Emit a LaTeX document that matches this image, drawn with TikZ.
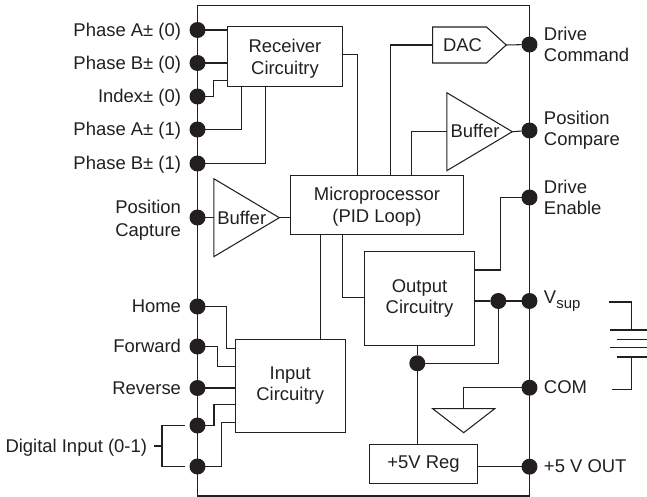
\documentclass[tikz,border=0pt]{standalone}
\usepackage{fontspec}
\setmainfont{Liberation Sans}
\usepackage{xcolor}
\usetikzlibrary{positioning}
\usetikzlibrary{shapes.geometric}
\usetikzlibrary{shapes.symbols}
\definecolor{ink}{HTML}{231F20}
\tikzset{
	terminal/.style={circle,fill=ink,draw=none,minimum size=.32cm,inner sep=0pt,outer sep=0pt},
	block/.style={draw=ink,rectangle,align=center,inner sep=0pt,outer sep=0pt},
	caption/.style={inner sep=0pt,outer sep=0pt,text=ink},
	oneline/.style={caption,text height=.716em,text depth=0pt},
	buffer/.style={draw=ink,isosceles triangle,isosceles triangle stretches,inner sep=0pt,outer sep=0pt}
}
\begin{document}
\begin{tikzpicture}[x=.02cm,y=-.02cm,line width=.6pt,draw=ink,text=ink,font=\fontsize{10.5}{12.2}\selectfont]
		\useasboundingbox (0,0) rectangle (647,497);
		\draw (197.5,5.5) rectangle (529.5,496);

		\node[terminal](pa0) at (197.5,30) {};
		\node[terminal](pb0) at (197.5,63) {};
		\node[terminal](idx0) at (197.5,96.5) {};
		\node[terminal](pa1) at (197.5,129.5) {};
		\node[terminal](pb1) at (197.5,163.5) {};
		\node[terminal](capture) at (197.5,217.5) {};
		\node[terminal](home) at (197.5,306.5) {};
		\node[terminal](forward) at (197.5,346.5) {};
		\node[terminal](reverse) at (197.5,388) {};
		\node[terminal](din0) at (197.5,425.5) {};
		\node[terminal](din1) at (197.5,466.5) {};

		\node[terminal](command) at (529.5,44.5) {};
		\node[terminal](compare) at (529.5,130.5) {};
		\node[terminal](enable) at (529.5,197.5) {};
		\node[terminal](vsup) at (529.5,301) {};
		\node[terminal](com) at (529.5,387.7) {};
		\node[terminal](fivev) at (529.5,466.7) {};
		\node[terminal](vjoin) at (498.3,301) {};
		\node[terminal](regjoin) at (417.3,363.3) {};

		\node[oneline,left = .17cm of pa0](lpa0) {Phase A± (0)};
		\node[oneline,left = .17cm of pb0](lpb0) {Phase B± (0)};
		\node[oneline,left = .17cm of idx0](lidx0) {Index± (0)};
		\node[oneline,left = .17cm of pa1](lpa1) {Phase A± (1)};
		\node[oneline,left = .17cm of pb1](lpb1) {Phase B± (1)};
		\node[caption,left = .17cm of capture,align=right,yshift=-1.5pt](lcapture) {Position\\[.6pt]Capture};
		\node[oneline,left = .17cm of home](lhome) {Home};
		\node[oneline,left = .17cm of forward](lforward) {Forward};
		\node[oneline,left = .17cm of reverse](lreverse) {Reverse};

		\node[caption,right = .13cm of command,align=left](lcommand) {Drive\\Command};
		\node[caption,right = .13cm of compare,align=left](lcompare) {Position\\Compare};
		\node[caption,right = .13cm of enable,align=left](lenable) {Drive\\Enable};
		\node[caption,right = .13cm of vsup](lvsup) {V\raisebox{-.3em}{\fontsize{8.5}{10}\selectfont sup}};
		\node[oneline,right = .13cm of com](lcom) {COM};
		\node[oneline,right = .13cm of fivev](lfivev) {+5 V OUT};

		\node[block,minimum width=2.3cm,minimum height=1.2cm](receiver) at (285,56.6) {\rule{0pt}{9.9pt}Receiver\\Circuitry};
		\node[block,minimum width=3.45cm,minimum height=1.18cm](micro) at (377,205.2) {\rule{0pt}{9.2pt}Microprocessor\\(PID Loop)};
		\node[block,minimum width=2.2cm,minimum height=1.88cm](output) at (419.5,298.5) {Output\\Circuitry};
		\node[block,minimum width=2.2cm,minimum height=1.87cm](input) at (290.2,385.8) {Input\\Circuitry};
		\node[block,minimum width=2.15cm,minimum height=.78cm,text height=.7em,text depth=.2em](reg) at (423.6,464.2) {+5V Reg};

		\node[buffer,minimum height=1.31cm,minimum width=1.56cm,anchor=apex](bufcap) at (279.3,217.7) {};
		\node[caption](lbufcap) at (241.7,217.7) {Buffer};
		\node[buffer,minimum height=1.31cm,minimum width=1.56cm,anchor=apex](bufcmp) at (512.3,131.7) {};
		\node[caption](lbufcmp) at (475,131) {Buffer};
		\node[draw=ink,signal,signal to=east,signal pointer angle=85,inner sep=0pt,outer sep=0pt,minimum width=1.47cm,minimum height=.72cm,anchor=west](dac) at (432.7,45) {};
		\node[caption](ldac) at (462.5,45.5) {DAC};
		\node[buffer,shape border rotate=270,minimum height=.48cm,minimum width=1.24cm,anchor=apex](ground) at (463.7,432.7) {};

		\draw (pa0) -- (pa0 -| receiver.west);
		\draw (pb0) -- (pb0 -| receiver.west);
		\draw (idx0) -- ++(15.8,0) |- (receiver.west |- 0,80.7);
		\draw (pa1) -| (241.7,86.6);
		\draw (pb1) -| (265.5,86.6);
		\draw (receiver.east |- 0,54.3) -| (357.5,175.7);
		\draw (micro.north -| 390.5,0) |- (dac.west);
		\draw (micro.north -| 411.7,0) |- (bufcmp.west |- 0,131.7);
		\draw (dac.east) -- (command);
		\draw (bufcmp.apex) -- (compare);
		\draw (capture) -- (capture -| bufcap.west);
		\draw (bufcap.apex) -- (micro.west |- bufcap.apex);
		\draw (micro.south -| 342.7,0) |- (output.west |- 0,297.7);
		\draw (micro.south -| 320.7,0) -- (input.north -| 320.7,0);
		\draw (enable) -| (500.7,270) -- (output.east |- 0,270);
		\draw (output.east |- vsup) -- (vjoin) -- (vsup);
		\draw (vjoin) |- (regjoin);
		\draw (output.south -| regjoin) -- (regjoin) -- (reg.north -| regjoin);
		\draw (reg.east |- fivev) -- (fivev);
		\draw (com) -| (463.7,408.7);

		\draw (home) -| (226.3,348.3) -- (input.west |- 0,348.3);
		\draw (forward) -| (217.7,366.3) -- (input.west |- 0,366.3);
		\draw (reverse) -- (input.west |- reverse);
		\draw (din0) -| (214,404.3) -- (input.west |- 0,404.3);
		\draw (din1) -| (221.7,422.7) -- (input.west |- 0,422.7);

		\coordinate (din0end) at (185,425.5);
		\coordinate (din1end) at (185,466.5);
		\coordinate (dintick) at (154.3,446);
		\node[oneline,left = .146cm of dintick](ldin) {Digital Input (0-1)};
		\draw (din0end) -| (162,466.5) -- (din1end);
		\draw (dintick) -- (162,446);

		\coordinate (battop) at (609,302);
		\coordinate (batbot) at (612.3,389.3);
		\draw (battop) -| (631.7,330);
		\draw (610,330) -- (647,330);
		\draw (616.7,339.3) -- (647,339.3);
		\draw (610,347.7) -- (647,347.7);
		\draw (616.7,357) -- (647,357);
		\draw (batbot) -| (631.7,357);
\end{tikzpicture}
\end{document}
